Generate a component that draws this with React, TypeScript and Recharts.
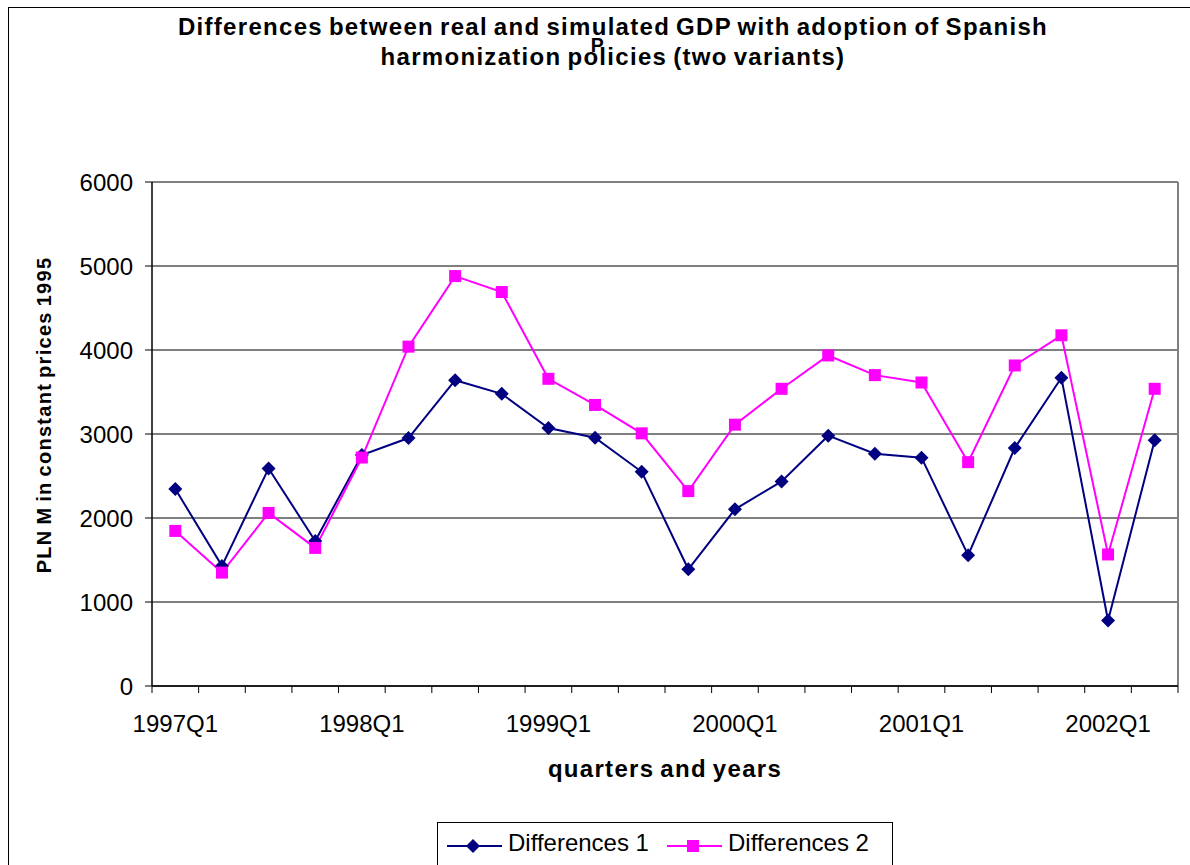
import React from 'react';
import { LineChart, Line, XAxis, YAxis, CartesianGrid, ReferenceLine, Legend } from 'recharts';

const FONT = "Arial, 'Liberation Sans', sans-serif";

// Quarterly categories, 1997Q1 .. 2002Q2
const QUARTERS = [
  '1997Q1', '1997Q2', '1997Q3', '1997Q4',
  '1998Q1', '1998Q2', '1998Q3', '1998Q4',
  '1999Q1', '1999Q2', '1999Q3', '1999Q4',
  '2000Q1', '2000Q2', '2000Q3', '2000Q4',
  '2001Q1', '2001Q2', '2001Q3', '2001Q4',
  '2002Q1', '2002Q2',
];

// Differences between real and simulated GDP, PLN M (constant 1995 prices)
const DIFFERENCES_1 = [
  2345, 1430, 2590, 1727, 2750, 2952, 3640, 3478, 3072, 2955, 2550,
  1390, 2103, 2436, 2980, 2766, 2718, 1558, 2833, 3669, 780, 2925,
];
const DIFFERENCES_2 = [
  1846, 1350, 2060, 1644, 2720, 4040, 4880, 4690, 3657, 3346, 3008,
  2320, 3111, 3538, 3935, 3701, 3613, 2665, 3816, 4175, 1566, 3538,
];

const Y_TICKS = [0, 1000, 2000, 3000, 4000, 5000, 6000];
const LABEL_EVERY = 4;

const NAVY = '#000080';
const MAGENTA = '#FF00FF';

const SERIES = [
  { key: 'd1', name: 'Differences 1', color: NAVY, marker: 'diamond' },
  { key: 'd2', name: 'Differences 2', color: MAGENTA, marker: 'square' },
];

const rows = QUARTERS.map((q, i) => ({
  pos: i + 0.5,
  quarter: q,
  d1: DIFFERENCES_1[i],
  d2: DIFFERENCES_2[i],
}));

// tick marks sit on the boundaries between quarters
const EDGE_TICKS = [...QUARTERS.map((_, i) => i), QUARTERS.length];

const Marker = ({ type, cx, cy, color }: { type: string; cx: number; cy: number; color: string }) => {
  if (type === 'diamond') {
    const r = 7;
    return <polygon points={`${cx},${cy - r} ${cx + r},${cy} ${cx},${cy + r} ${cx - r},${cy}`} fill={color} />;
  }
  const s = 12;
  return <rect x={cx - s / 2} y={cy - s / 2} width={s} height={s} fill={color} />;
};

const QuarterTick = (props: any) => {
  const { x, y, payload, width } = props;
  const v = payload.value as number;
  if (v >= QUARTERS.length || v % LABEL_EVERY !== 0) return <g />;
  const half = (width || 1026) / QUARTERS.length / 2;
  return (
    <text x={x + half} y={y} dy="0.71em" textAnchor="middle" fill="#000" fontSize={24} fontFamily={FONT}>
      {QUARTERS[v]}
    </text>
  );
};

const boldTitle = {
  fontFamily: FONT,
  fontWeight: 700,
  letterSpacing: '1.3px',
  wordSpacing: '-2px',
} as const;

const XTitle = (props: any) => {
  const vb = props.viewBox || {};
  return (
    <text x={vb.x + vb.width / 2} y={vb.y + 91} textAnchor="middle" fill="#000" fontSize={24} style={boldTitle}>
      quarters and years
    </text>
  );
};

const YTitle = (props: any) => {
  const vb = props.viewBox || {};
  const cx = vb.x + 3;
  const cy = vb.y + vb.height / 2 - 19;
  return (
    <text x={cx} y={cy} transform={`rotate(-90, ${cx}, ${cy})`} textAnchor="middle" fill="#000" fontSize={20} style={boldTitle}>
      PLN M in constant prices 1995
    </text>
  );
};

const LegendBox = (props: any) => {
  const payload = props.payload || [];
  const starts = [9, 229];
  return (
    <div style={{ width: 456, height: 60, border: '1px solid #000', boxSizing: 'border-box', background: '#fff' }}>
      <svg width={454} height={58} style={{ display: 'block' }}>
        {payload.map((entry: any, i: number) => {
          const s = SERIES.find((d) => d.key === entry.dataKey) || SERIES[i];
          const x0 = starts[i] ?? 9 + i * 220;
          return (
            <g key={s.key}>
              <line x1={x0} x2={x0 + 55} y1={23} y2={23} stroke={s.color} strokeWidth={2} />
              <Marker type={s.marker} cx={x0 + 26} cy={23} color={s.color} />
              <text x={x0 + 61} y={27.5} fontSize={24} fontFamily={FONT} fill="#000">
                {s.name}
              </text>
            </g>
          );
        })}
      </svg>
    </div>
  );
};

export default function App() {
  const W = 1182;
  const H = 858;
  return (
    <div style={{ position: 'absolute', left: 8, top: 7, width: W, height: H, overflow: 'hidden', background: '#fff' }}>
      <svg width={W} height={90} style={{ position: 'absolute', left: 0, top: 0, pointerEvents: 'none' }}>
        <text x={605} y={28} textAnchor="middle" fontSize={24} fill="#000" style={boldTitle}>
          Differences between real and simulated GDP with adoption of Spanish
        </text>
        <text x={590} y={45} textAnchor="middle" fontSize={19.5} fill="#000" style={boldTitle}>
          P
        </text>
        <text x={605} y={58} textAnchor="middle" fontSize={24} fill="#000" style={boldTitle}>
          harmonization policies (two variants)
        </text>
      </svg>
      <LineChart width={W} height={H} data={rows} margin={{ top: 175, right: 12, bottom: 79, left: 40 }}>
        <CartesianGrid vertical={false} stroke="#000" strokeWidth={1} />
        <XAxis
          dataKey="pos"
          type="number"
          domain={[0, QUARTERS.length]}
          ticks={EDGE_TICKS}
          interval={0}
          height={100}
          tickSize={7}
          tickMargin={22}
          axisLine={{ stroke: '#000', strokeWidth: 1.5 }}
          tickLine={{ stroke: '#000' }}
          tick={<QuarterTick />}
          label={XTitle}
        />
        <YAxis
          domain={[0, 6000]}
          ticks={Y_TICKS}
          interval={0}
          width={104}
          tickSize={7}
          tickMargin={12}
          axisLine={{ stroke: '#000', strokeWidth: 1.5 }}
          tickLine={{ stroke: '#000' }}
          tick={{ fill: '#000', fontSize: 24, fontFamily: FONT }}
          label={YTitle}
        />
        <ReferenceLine y={6000} stroke="#808080" strokeWidth={2} />
        <ReferenceLine x={QUARTERS.length} stroke="#808080" strokeWidth={2} />
        <Legend
          layout="horizontal"
          verticalAlign="middle"
          align="center"
          content={<LegendBox />}
          wrapperStyle={{ top: 815, left: 429, width: 456, height: 60 }}
        />
        {SERIES.map((s) => (
          <Line
            key={s.key}
            dataKey={s.key}
            name={s.name}
            type="linear"
            stroke={s.color}
            strokeWidth={2}
            isAnimationActive={false}
            dot={(p: any) => <Marker key={`${s.key}-${p.index}`} type={s.marker} cx={p.cx} cy={p.cy} color={s.color} />}
            activeDot={false}
          />
        ))}
      </LineChart>
      <div
        style={{
          position: 'absolute', left: 0, top: 0, width: W, height: H, boxSizing: 'border-box',
          borderLeft: '1px solid #000', borderTop: '1px solid #000', pointerEvents: 'none',
        }}
      />
    </div>
  );
}
